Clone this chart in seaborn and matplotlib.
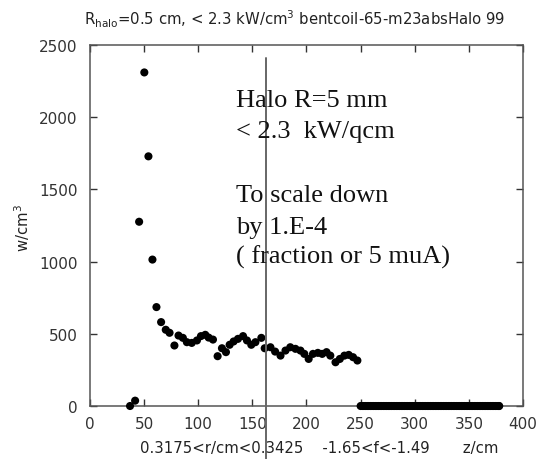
import numpy as np
import pandas as pd
import matplotlib
matplotlib.use("Agg")
import matplotlib.pyplot as plt
import seaborn as sns

# z positions (cm) and power density (W/cm^3) along the coil
z_front = [37.0, 41.7, 45.4, 50.2, 54.0, 57.7, 61.4, 65.7, 70.0, 73.5, 78.0, 81.8,
           85.8, 89.5, 94.0, 98.8, 102.5, 106.5, 109.6, 113.6, 117.9, 121.9, 125.6,
           129.0, 132.7, 136.7, 141.4, 145.0, 149.0, 152.8, 158.3, 161.4]
w_front = [0, 37, 1276, 2310, 1729, 1014, 685, 581, 528, 507, 419, 488,
           472, 442, 437, 454, 484, 493, 474, 460, 345, 400, 373,
           424, 447, 465, 484, 454, 424, 442, 472, 400]

z_back = [166.7, 171.0, 176.0, 180.6, 185.0, 189.8, 194.4, 198.0, 202.0, 206.0,
          210.5, 214.5, 218.5, 222.0, 226.8, 230.8, 235.0, 239.0, 243.0, 247.0]
w_back = [407, 377, 349, 384, 407, 396, 384, 361, 326, 361,
          368, 361, 373, 349, 303, 326, 349, 354, 338, 315]

# downstream section: no deposited power
z_tail = [250.0, 251.5, 253.0, 254.5, 256.0, 257.5, 259.0, 260.5, 262.0, 263.5,
          265.0, 266.5, 268.0, 269.5, 271.0, 272.5, 274.0, 275.5, 277.0, 278.5,
          280.0, 281.5, 283.0, 284.5, 286.0, 287.5, 289.0, 290.5, 292.0, 293.5,
          295.0, 296.5, 298.0, 299.5, 301.0, 302.5, 304.0, 305.5, 307.0, 308.5,
          310.0, 311.5, 313.0, 314.5, 316.0, 317.5, 319.0, 320.5, 322.0, 323.5,
          325.0, 326.5, 328.0, 329.5, 331.0, 332.5, 334.0, 335.5, 337.0, 338.5,
          340.0, 341.5, 343.0, 344.5, 346.0, 347.5, 349.0, 350.5, 352.0, 353.5,
          355.0, 356.5, 358.0, 359.5, 361.0, 362.5, 364.0, 365.5, 367.0, 368.5,
          370.0, 371.5, 373.0, 374.5, 376.0, 377.5, 378.0]
w_tail = [0] * len(z_tail)

x_ticks = [0, 50, 100, 150, 200, 250, 300, 350, 400]
y_ticks = [0, 500, 1000, 1500, 2000, 2500]
z_marker = 163.0

df = pd.DataFrame({"z": z_front + z_back + z_tail,
                   "w": w_front + w_back + w_tail})

sns.set_theme(style="white")
plt.rcParams["font.family"] = ["DejaVu Sans"]

fig = plt.figure(figsize=(5.43, 4.60), dpi=100)
ax = fig.add_axes([0.1657, 0.1152, 0.7975, 0.7848])

sns.scatterplot(data=df, x="z", y="w", ax=ax, color="black", s=34,
                marker="o", edgecolor="none", linewidth=0, zorder=3,
                clip_on=False)

ax.set_xlim(0, 400)
ax.set_ylim(0, 2500)
ax.set_xticks(x_ticks)
ax.set_yticks(y_ticks)
ax.set_xlabel("")
ax.set_ylabel("")

for sp in ax.spines.values():
    sp.set_color("#555555")
    sp.set_linewidth(1.1)

ax.tick_params(axis="both", which="both", direction="in", length=5, width=1.0,
               color="#333333", labelcolor="#333333", labelsize=11,
               top=True, right=True, bottom=True, left=True)
ax.tick_params(axis="x", pad=7)
ax.tick_params(axis="y", pad=9)

# marker line, drawn across the lower frame
ax.plot([z_marker, z_marker], [2410, -380], color="#666666", lw=1.4,
        clip_on=False, zorder=4)

fig.text(295 / 543, 1 - 19 / 460,
         r"R$_{\mathrm{halo}}$=0.5 cm, < 2.3 kW/cm$^{3}$ bentcoil-65-m23absHalo 99",
         ha="center", va="center", fontsize=10.7, color="#222222")

fig.text(22 / 543, 1 - 228 / 460, r"w/cm$^{3}$", rotation=90,
         ha="center", va="center", fontsize=10.7, color="#222222")

fig.text(140 / 543, 1 - 449 / 460,
         "0.3175<r/cm<0.3425    -1.65<f<-1.49       z/cm",
         ha="left", va="center", fontsize=10.7, color="#222222")

note_lines = ["Halo R=5 mm", "< 2.3  kW/qcm", "", "To scale down",
              "by 1.E-4", "( fraction or 5 muA)"]
note_base = [107, 138, None, 202, 234, 264]
for line, yb in zip(note_lines, note_base):
    if line:
        fig.text(236 / 543, 1 - yb / 460, line, ha="left", va="baseline",
                 fontsize=19, family="Liberation Serif", color="#111111")

fig.savefig("out.png", dpi=100)
